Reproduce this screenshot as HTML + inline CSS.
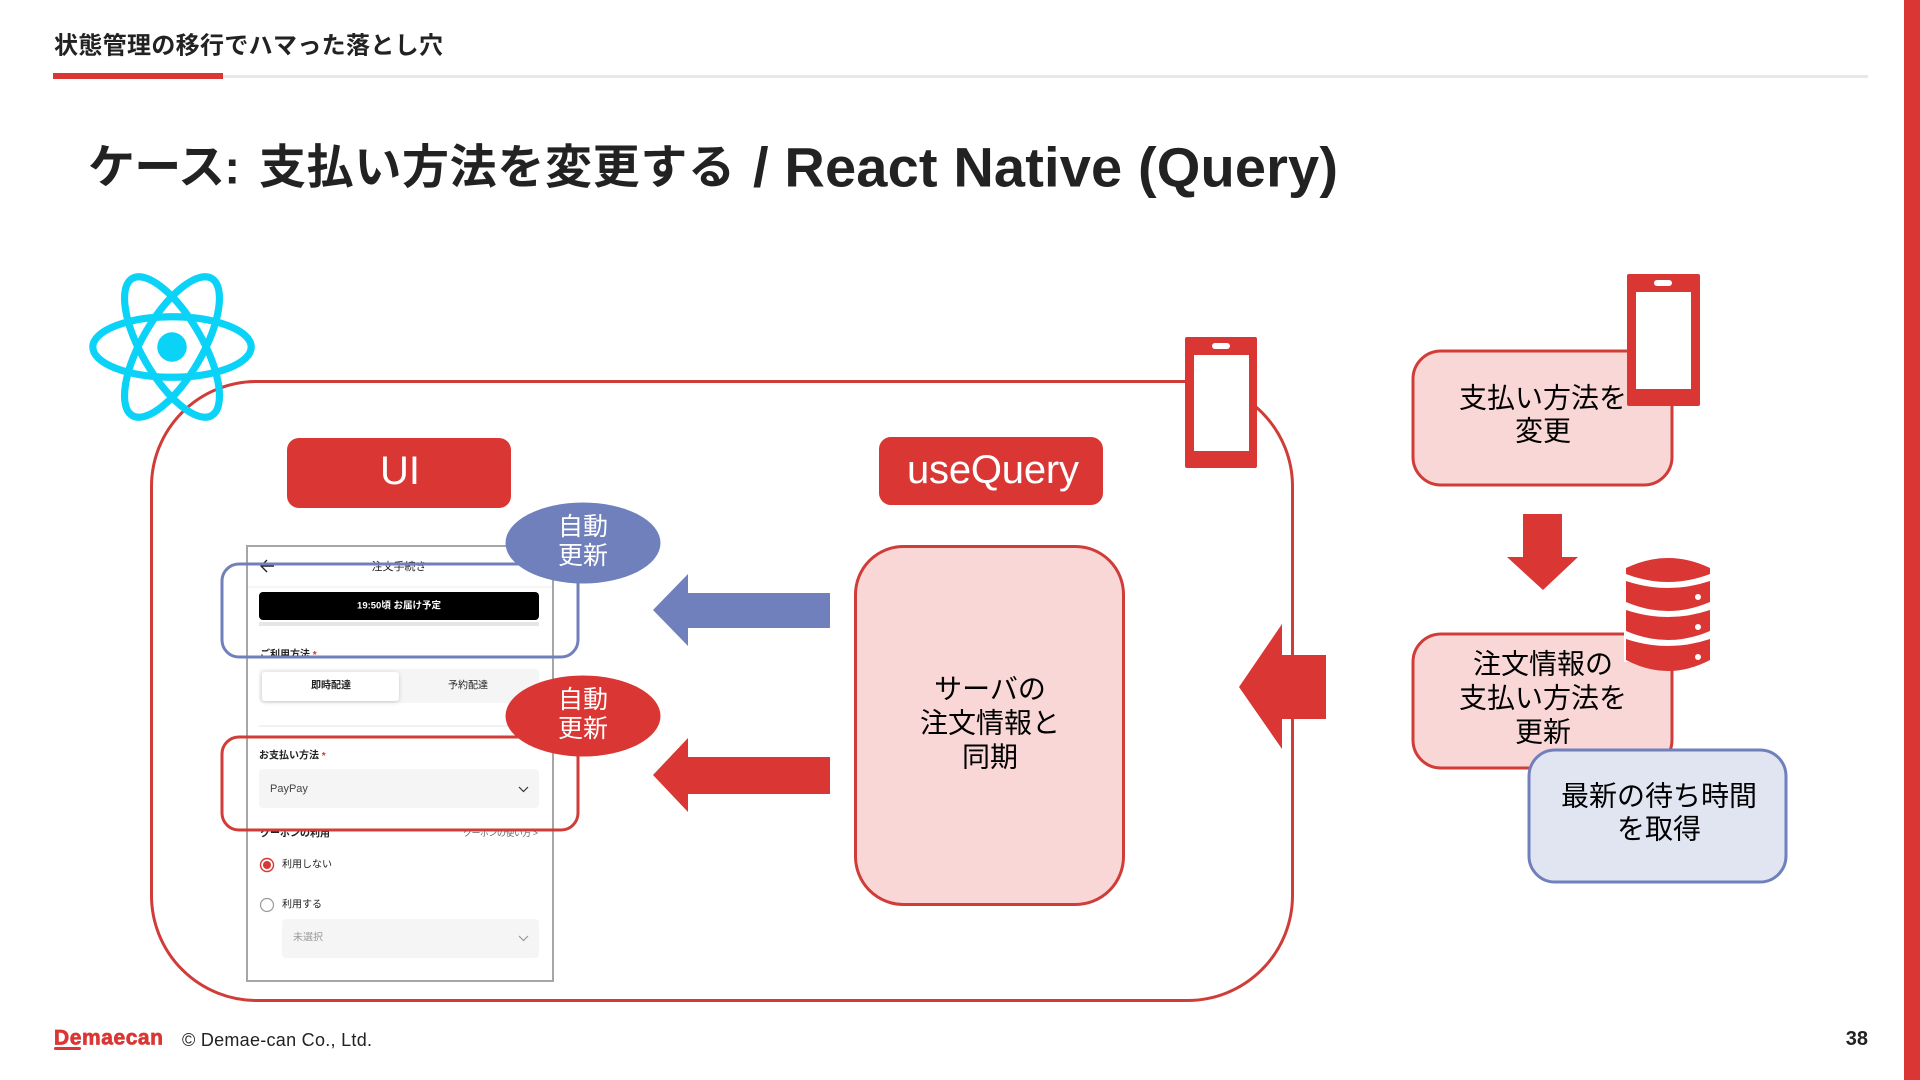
<!DOCTYPE html>
<html lang="ja">
<head>
<meta charset="utf-8">
<style>
html,body{margin:0;padding:0;background:#fff;width:1920px;height:1080px;overflow:hidden}
svg{display:block}
text{font-family:"Liberation Sans","Noto Sans CJK JP",sans-serif;dominant-baseline:central}
.c{text-anchor:middle}
.b{font-size:28px;fill:#000;text-anchor:middle}
.w{font-size:25px;fill:#fff;text-anchor:middle}
.s{font-size:10px;fill:#222}
.sb{font-size:10px;fill:#222;font-weight:700}
</style>
</head>
<body>
<svg width="1920" height="1080" viewBox="0 0 1920 1080" xmlns="http://www.w3.org/2000/svg">
<rect width="1920" height="1080" fill="#fff"/>
<!-- header -->
<text x="54" y="46" font-size="24" font-weight="700" fill="#222" textLength="389">状態管理の移行でハマった落とし穴</text>
<rect x="53" y="75" width="1815" height="3" fill="#e8e8e8"/>
<rect x="53" y="73" width="170" height="6" fill="#d93634"/>
<rect x="1904" y="0" width="16" height="1080" fill="#d93634"/>
<!-- title -->
<text x="88" y="167" font-size="47" font-weight="700" fill="#222" textLength="152">ケース:</text>
<text x="259" y="167" font-size="47" font-weight="700" fill="#222" textLength="476">支払い方法を変更する</text>
<text x="753" y="167" font-size="56" font-weight="700" fill="#222" textLength="585">/ React Native (Query)</text>
<!-- main container -->
<rect x="151.5" y="381.5" width="1141" height="619" rx="105" ry="105" fill="#fff" stroke="#d03c38" stroke-width="3"/>
<!-- react logo -->
<g transform="translate(172,347) scale(7.2)" fill="none" stroke="#0bd3f8" stroke-width="1">
<ellipse rx="11" ry="4.2"/>
<ellipse rx="11" ry="4.2" transform="rotate(60)"/>
<ellipse rx="11" ry="4.2" transform="rotate(120)"/>
<circle r="2.05" fill="#0bd3f8" stroke="none"/>
</g>
<!-- labels -->
<rect x="287" y="438" width="224" height="70" rx="12" fill="#d93634"/>
<text x="400" y="471" class="c" font-size="40" fill="#fff">UI</text>
<rect x="879" y="437" width="224" height="68" rx="12" fill="#d93634"/>
<text x="993" y="470" class="c" font-size="40" fill="#fff" textLength="172">useQuery</text>
<!-- phone left -->
<rect x="1185" y="337" width="72" height="131" rx="2" fill="#d93634"/>
<rect x="1194" y="355" width="55" height="96" fill="#fff"/>
<rect x="1212" y="343" width="18" height="6" rx="3" fill="#fff"/>
<!-- app screenshot -->
<rect x="247" y="546" width="306" height="435" fill="#fff" stroke="#a6a6a6" stroke-width="2"/>
<path d="M274 566H262M267 560l-6 6 6 6" fill="none" stroke="#222" stroke-width="1.4"/>
<text x="399" y="567" class="c" font-size="11" fill="#222">注文手続き</text>
<rect x="248" y="586.5" width="304" height="1" fill="#eee"/>
<rect x="259" y="622" width="280" height="4" fill="#e6e6e6"/>
<rect x="259" y="592" width="280" height="28" rx="4" fill="#000"/>
<text x="399" y="606" class="c" font-size="9.5" font-weight="700" fill="#fff">19:50頃 お届け予定</text>
<text x="260" y="655" class="sb">ご利用方法 <tspan fill="#d93634">*</tspan></text>
<rect x="248" y="657" width="304" height="10" fill="#fff"/>
<rect x="259" y="669" width="280" height="34" rx="4" fill="#f5f5f5"/>
<rect x="262" y="672" width="137" height="29" rx="3" fill="#fff" style="filter:drop-shadow(0 1px 2px rgba(0,0,0,.18))"/>
<text x="331" y="686" class="sb c">即時配達</text>
<text x="468" y="686" class="s c" fill="#555">予約配達</text>
<rect x="259" y="725.5" width="280" height="1" fill="#e3e3e3"/>
<text x="259" y="756" class="sb">お支払い方法 <tspan fill="#d93634">*</tspan></text>
<rect x="259" y="769" width="280" height="39" rx="4" fill="#f5f5f5"/>
<text x="270" y="789" font-size="11" fill="#444">PayPay</text>
<path d="M519 787l4.500 4.500 4.500-4.500" fill="none" stroke="#333" stroke-width="1.2"/>
<text x="260" y="834" class="sb">クーポンの利用</text>
<text x="463" y="833" font-size="9" fill="#666" textLength="75">クーポンの使い方 &gt;</text>
<rect x="248" y="820" width="304" height="10" fill="#fff"/>
<circle cx="267" cy="865" r="6.500" fill="#fff" stroke="#d93634" stroke-width="1.4"/>
<circle cx="267" cy="865" r="4" fill="#d93634"/>
<text x="282" y="865" class="s">利用しない</text>
<circle cx="267" cy="905" r="6.500" fill="#fff" stroke="#999" stroke-width="1.2"/>
<text x="282" y="905" class="s">利用する</text>
<rect x="282" y="919" width="257" height="39" rx="4" fill="#f5f5f5"/>
<text x="293" y="938" class="s" style="fill:#999">未選択</text>
<path d="M519 936l4.500 4.500 4.500-4.500" fill="none" stroke="#999" stroke-width="1.2"/>
<!-- highlight rects -->
<rect x="222" y="564" width="356" height="93" rx="17" fill="none" stroke="#7080bc" stroke-width="3"/>
<rect x="222" y="737" width="356" height="93" rx="17" fill="none" stroke="#d03c38" stroke-width="3"/>
<!-- bubbles -->
<ellipse cx="583" cy="543" rx="77.500" ry="40.500" fill="#7080bc"/>
<text x="583" y="527" class="w">自動</text>
<text x="583" y="556" class="w">更新</text>
<ellipse cx="583" cy="716" rx="77.500" ry="40.500" fill="#d93634"/>
<text x="583" y="700" class="w">自動</text>
<text x="583" y="729" class="w">更新</text>
<!-- arrows -->
<polygon points="653,610 688,574 688,593 830,593 830,628 688,628 688,646" fill="#7080bc"/>
<polygon points="653,775 688,738 688,757 830,757 830,794 688,794 688,812" fill="#d93634"/>
<!-- sync box -->
<rect x="855.500" y="546.500" width="268" height="358" rx="48" fill="#f9d7d6" stroke="#d03c38" stroke-width="3"/>
<text x="990" y="689" class="b">サーバの</text>
<text x="990" y="723" class="b">注文情報と</text>
<text x="990" y="757" class="b">同期</text>
<!-- large arrow -->
<polygon points="1239,687 1282,624 1282,655 1326,655 1326,719 1282,719 1282,749" fill="#d93634"/>
<!-- right: box 1 -->
<rect x="1413" y="351" width="259" height="134" rx="28" fill="#f9d7d6" stroke="#d03c38" stroke-width="3"/>
<text x="1543" y="398" class="b">支払い方法を</text>
<text x="1543" y="431" class="b">変更</text>
<!-- phone right -->
<rect x="1627" y="274" width="73" height="132" rx="2" fill="#d93634"/>
<rect x="1636" y="292" width="55" height="97" fill="#fff"/>
<rect x="1654" y="280" width="18" height="6" rx="3" fill="#fff"/>
<!-- down arrow -->
<polygon points="1523,514 1562,514 1562,557 1578,557 1543,590 1507,557 1523,557" fill="#d93634"/>
<!-- right: box 2 -->
<rect x="1413" y="634" width="259" height="134" rx="28" fill="#f9d7d6" stroke="#d03c38" stroke-width="3"/>
<text x="1543" y="664" class="b">注文情報の</text>
<text x="1543" y="698" class="b">支払い方法を</text>
<text x="1543" y="732" class="b">更新</text>
<!-- DB -->
<g>
<rect x="1624" y="566" width="88" height="96" fill="#fff"/>
<path d="M1626 568Q1668 548 1710 568V574Q1668 590 1626 574Z" fill="#d93634"/>
<path d="M1626 581Q1668 595 1710 581V602Q1668 620 1626 602Z" fill="#d93634"/>
<path d="M1626 610Q1668 624 1710 610V631Q1668 649 1626 631Z" fill="#d93634"/>
<path d="M1626 639Q1668 653 1710 639V660Q1668 682 1626 660Z" fill="#d93634"/>
<circle cx="1698" cy="597" r="3" fill="#fff"/>
<circle cx="1698" cy="627" r="3" fill="#fff"/>
<circle cx="1698" cy="657" r="3" fill="#fff"/>
</g>
<!-- blue box -->
<rect x="1529" y="750" width="257" height="132" rx="26" fill="#e1e5f2" stroke="#7080bc" stroke-width="3"/>
<text x="1659" y="796" class="b">最新の待ち時間</text>
<text x="1659" y="829" class="b">を取得</text>
<!-- footer -->
<text x="54" y="1038" font-size="21" font-weight="700" fill="#d93634" stroke="#d93634" stroke-width=".7" textLength="109">Demaecan</text>
<rect x="54" y="1047" width="27" height="3" rx="1.500" fill="#d93634"/>
<text x="182" y="1040" font-size="18" fill="#222" textLength="190">© Demae-can Co., Ltd.</text>
<text x="1868" y="1039" font-size="20" font-weight="700" fill="#222" text-anchor="end">38</text>
</svg>
</body>
</html>
